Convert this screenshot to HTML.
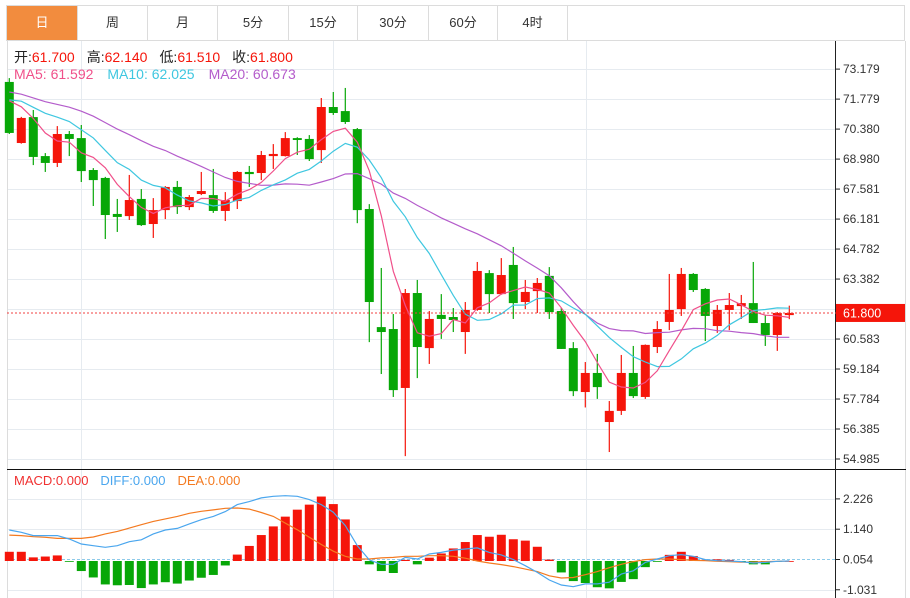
<!DOCTYPE html>
<html><head><meta charset="utf-8">
<style>
html,body{margin:0;padding:0;background:#fff;width:910px;height:598px;overflow:hidden;font-family:"Liberation Sans","Noto Sans CJK SC",sans-serif;}
#tabs{position:absolute;left:6px;top:5px;height:36px;width:899px;border:1px solid #dcdcdc;border-bottom:1px solid #dcdcdc;box-sizing:border-box;}
.tab{position:absolute;top:0;height:34px;line-height:34px;text-align:center;font-size:13px;color:#333;border-right:1px solid #dcdcdc;box-sizing:border-box;}
.tab.active{background:#f28c3e;color:#fff;}
svg{position:absolute;left:0;top:0;}
</style></head><body>
<div id="tabs">
<div class="tab active" style="left:0;width:71px">日</div>
<div class="tab" style="left:71px;width:70px">周</div>
<div class="tab" style="left:141px;width:70px">月</div>
<div class="tab" style="left:211px;width:71px">5分</div>
<div class="tab" style="left:282px;width:69px">15分</div>
<div class="tab" style="left:351px;width:71px">30分</div>
<div class="tab" style="left:422px;width:69px">60分</div>
<div class="tab" style="left:491px;width:70px">4时</div>
</div>
<svg id="chart" width="910" height="598"></svg>
<script>
const opens=[72.58,69.73,70.94,69.12,68.80,70.15,69.96,68.47,68.10,66.42,66.32,67.12,65.95,66.60,67.68,66.74,67.35,67.30,66.56,67.02,68.38,68.33,69.12,69.12,69.96,69.92,69.40,71.41,71.22,70.38,66.65,61.14,61.05,58.30,62.73,60.16,61.71,61.61,60.91,61.94,63.66,62.68,64.04,62.31,62.82,63.53,61.89,60.16,58.11,59.00,56.71,57.23,59.00,57.88,60.21,61.38,61.98,63.62,62.92,61.19,61.94,62.12,62.26,61.33,60.77,61.70];
const highs=[72.76,70.95,71.27,69.26,70.52,70.29,70.57,68.56,68.15,67.12,68.24,67.58,67.16,67.72,67.96,67.30,68.38,68.52,67.44,68.42,68.66,69.36,69.68,70.24,70.00,70.10,71.83,72.11,72.30,70.43,66.88,63.90,61.75,62.92,63.34,61.89,62.68,62.03,62.31,64.18,63.80,64.36,64.88,63.34,63.43,63.94,62.03,60.44,59.51,59.89,57.69,59.84,60.26,60.33,61.42,63.62,63.90,63.66,62.96,62.17,62.73,62.64,64.18,61.71,61.84,62.14];
const lows=[70.15,69.70,68.70,68.38,68.61,69.12,67.91,66.79,65.25,65.58,66.14,65.86,65.30,66.18,66.42,66.60,67.30,66.47,66.09,66.65,67.68,68.00,68.52,69.10,69.17,68.89,68.80,71.04,70.62,65.99,60.44,58.95,57.88,55.12,58.76,59.42,60.59,60.91,59.89,61.90,61.80,62.65,61.52,61.98,61.80,61.52,60.12,57.92,57.39,57.79,55.31,57.04,57.83,57.79,59.93,61.00,61.66,62.78,60.49,60.87,61.00,61.52,61.33,60.26,60.03,61.51];
const closes=[70.20,70.90,69.08,68.80,70.15,69.92,68.42,68.00,66.37,66.28,67.07,65.90,66.60,67.68,66.74,67.21,67.49,66.56,67.07,68.38,68.28,69.17,69.22,69.96,69.87,68.98,71.41,71.13,70.71,66.60,62.31,60.91,58.20,62.73,60.21,61.52,61.52,61.47,61.94,63.76,62.68,63.57,62.26,62.78,63.20,61.84,60.12,58.15,59.00,58.34,57.23,59.00,57.92,60.31,61.05,61.94,63.62,62.87,61.66,61.94,62.17,62.26,61.33,60.77,61.80,61.80];
const priorCloses=[72.9,72.6,72.3,72.7,72.5,72.2,72.6,72.4,72.3,72.3,71.5,71.9,71.6,72.0,71.9,72.3,71.8,72.2,72.0];
const macdHist=[0.33,0.33,0.13,0.16,0.20,-0.01,-0.36,-0.59,-0.84,-0.87,-0.86,-0.97,-0.84,-0.76,-0.81,-0.70,-0.60,-0.50,-0.16,0.23,0.54,0.93,1.24,1.59,1.84,2.02,2.31,2.04,1.49,0.57,-0.12,-0.36,-0.43,0.04,-0.12,0.12,0.27,0.45,0.68,0.93,0.87,0.94,0.78,0.73,0.51,0.05,-0.41,-0.72,-0.79,-0.94,-0.98,-0.75,-0.65,-0.22,-0.01,0.22,0.33,0.18,0.04,0.06,0.04,-0.01,-0.12,-0.12,-0.01,0.0];
const diffVals=[1.11,1.03,0.91,0.91,0.91,0.79,0.61,0.55,0.49,0.55,0.69,0.76,0.97,1.11,1.17,1.33,1.48,1.60,1.77,2.02,2.13,2.26,2.32,2.34,2.32,2.20,2.02,1.75,1.27,0.55,0.04,-0.12,-0.12,0.13,0.07,0.25,0.31,0.39,0.43,0.47,0.31,0.22,0.05,-0.17,-0.41,-0.68,-0.86,-0.92,-0.82,-0.82,-0.76,-0.47,-0.35,-0.05,0.07,0.19,0.23,0.17,0.05,0.01,0.0,-0.02,-0.07,-0.05,-0.01,0.0];
const deaVals=[0.93,0.91,0.87,0.85,0.81,0.81,0.81,0.86,0.97,1.06,1.18,1.30,1.42,1.51,1.60,1.71,1.78,1.83,1.89,1.90,1.86,1.74,1.60,1.36,1.12,0.85,0.59,0.35,0.17,0.07,0.07,0.11,0.13,0.17,0.17,0.19,0.19,0.17,0.10,0.0,-0.07,-0.13,-0.20,-0.29,-0.38,-0.53,-0.61,-0.59,-0.49,-0.38,-0.24,-0.12,-0.02,0.05,0.07,0.07,0.05,0.02,0.01,-0.01,-0.02,-0.04,-0.04,-0.02,-0.01,0.0];
const priceTicks=["73.179","71.779","70.380","68.980","67.581","66.181","64.782","63.382","61.982","60.583","59.184","57.784","56.385","54.985"];
const macdTicks=["2.226","1.140","0.054","-1.031"];
const lastPrice=61.80;

const NS="http://www.w3.org/2000/svg";
const svg=document.getElementById('chart');
const RED="#f5150a",GREEN="#07a707";
function px(i){return 9.3+12*i;}
function py(p){return 459-(p-54.985)*21.43;}
function my(m){return 561-m*27.9;}
function mk(tag,attrs,parent){const e=document.createElementNS(NS,tag);for(const k in attrs)e.setAttribute(k,attrs[k]);(parent||svg).appendChild(e);return e;}

const grid=mk('g',{});


priceTicks.forEach(t=>{const y=Math.round(py(parseFloat(t)))+0.5;mk('line',{x1:7,x2:836,y1:y,y2:y,stroke:'#e6ebf0'},grid);});
[81.5,333.5,586.5].forEach(x=>{mk('line',{x1:x,x2:x,y1:41,y2:598,stroke:'#e6ebf0'},grid);});
macdTicks.forEach(t=>{if(t==="0.054")return;const y=Math.round(my(parseFloat(t)))+0.5;mk('line',{x1:7,x2:836,y1:y,y2:y,stroke:'#e6ebf0'},grid);});
mk('line',{x1:7.5,x2:7.5,y1:41,y2:598,stroke:'#dcdcdc'});
mk('line',{x1:905.5,x2:905.5,y1:41,y2:598,stroke:'#dcdcdc'});
mk('line',{x1:7,x2:906,y1:469.5,y2:469.5,stroke:'#111'});
mk('line',{x1:835.5,x2:835.5,y1:41,y2:598,stroke:'#222'});

const axis=mk('g',{'font-size':'12','fill':'#333','font-family':'Liberation Sans, sans-serif'});


priceTicks.forEach(t=>{const y=py(parseFloat(t));mk('line',{x1:836,x2:840,y1:y,y2:y,stroke:'#222'},axis);const tx=mk('text',{x:843,y:y+4},axis);tx.textContent=t;});
const maxis=mk('g',{'font-size':'12','fill':'#333','font-family':'Liberation Sans, sans-serif'});


macdTicks.forEach(t=>{const y=my(parseFloat(t));mk('line',{x1:836,x2:840,y1:y,y2:y,stroke:'#222'},maxis);const tx=mk('text',{x:843,y:y+4},maxis);tx.textContent=t;});

const cg=mk('g',{});


for(let i=0;i<closes.length;i++){
  const up=closes[i]>=opens[i];const col=up?RED:GREEN;const x=px(i);
  const g=mk('g',{},cg);
  
  
  mk('line',{x1:x,x2:x,y1:py(highs[i]),y2:py(lows[i]),stroke:col,'stroke-width':1.2},g);
  const t=py(Math.max(opens[i],closes[i])),b=py(Math.min(opens[i],closes[i]));
  mk('rect',{x:x-4.5,y:t,width:9,height:Math.max(1.5,b-t),fill:col},g);
}
const all=priorCloses.concat(closes);const off=priorCloses.length;
function ma(n){const r=[];for(let i=0;i<closes.length;i++){let s=0,c=0;for(let k=i+off-n+1;k<=i+off;k++){if(k>=0){s+=all[k];c++;}}r.push(s/c);}return r;}
function line(vals,yf,col,name){const d=vals.map((v,i)=>(i?'L':'M')+px(i).toFixed(1)+','+yf(v).toFixed(1)).join('');const p=mk('path',{d:d,fill:'none',stroke:col,'stroke-width':1.2});}
line(ma(20),py,'#b45ccb','ma20-line');
line(ma(10),py,'#3fc7e0','ma10-line');
line(ma(5),py,'#f0508a','ma5-line');

const lp=py(lastPrice);
const lpl=mk('line',{x1:7,x2:836,y1:lp,y2:lp,stroke:'#f04040','stroke-dasharray':'2,2'});


const lpb=mk('rect',{x:836,y:lp-9,width:69,height:18,fill:'#f5150a'});


const lpt=mk('text',{x:843,y:lp+4.5,'font-size':'12.5',fill:'#fff'});lpt.textContent=lastPrice.toFixed(3);

const zero=my(0);
const zl=mk('line',{x1:7,x2:836,y1:my(0.054),y2:my(0.054),stroke:'#8ecbea','stroke-dasharray':'3,2'});


const hg=mk('g',{});


macdHist.forEach((v,i)=>{const y=my(v);const r=mk('rect',{x:px(i)-4.5,y:Math.min(y,zero),width:9,height:Math.max(0.8,Math.abs(y-zero)),fill:v>=0?RED:GREEN},hg);});
line(deaVals,my,'#f47a20','dea-line');
line(diffVals,my,'#4aa6ee','diff-line');

function legend(y,fs,items,name){const g=mk('text',{x:14,y:y,'font-size':fs,'font-family':'Liberation Sans, Noto Sans CJK SC, sans-serif'});items.forEach(it=>{const s=mk('tspan',{fill:it[1]},g);if(it[2])s.setAttribute('dx',it[2]);s.textContent=it[0];});}
legend(62,'14',[["开:","#222"],["61.700",RED],["高:","#222",12],["62.140",RED],["低:","#222",12],["61.510",RED],["收:","#222",12],["61.800",RED]],'ohlc-legend');
legend(79,'14',[["MA5: 61.592","#f0508a"],["MA10: 62.025","#3fc7e0",14],["MA20: 60.673","#b45ccb",14]],'ma-legend');
legend(485,'13',[["MACD:0.000","#f03030"],["DIFF:0.000","#4aa6ee",12],["DEA:0.000","#f47a20",12]],'macd-legend');
</script>
</body></html>
